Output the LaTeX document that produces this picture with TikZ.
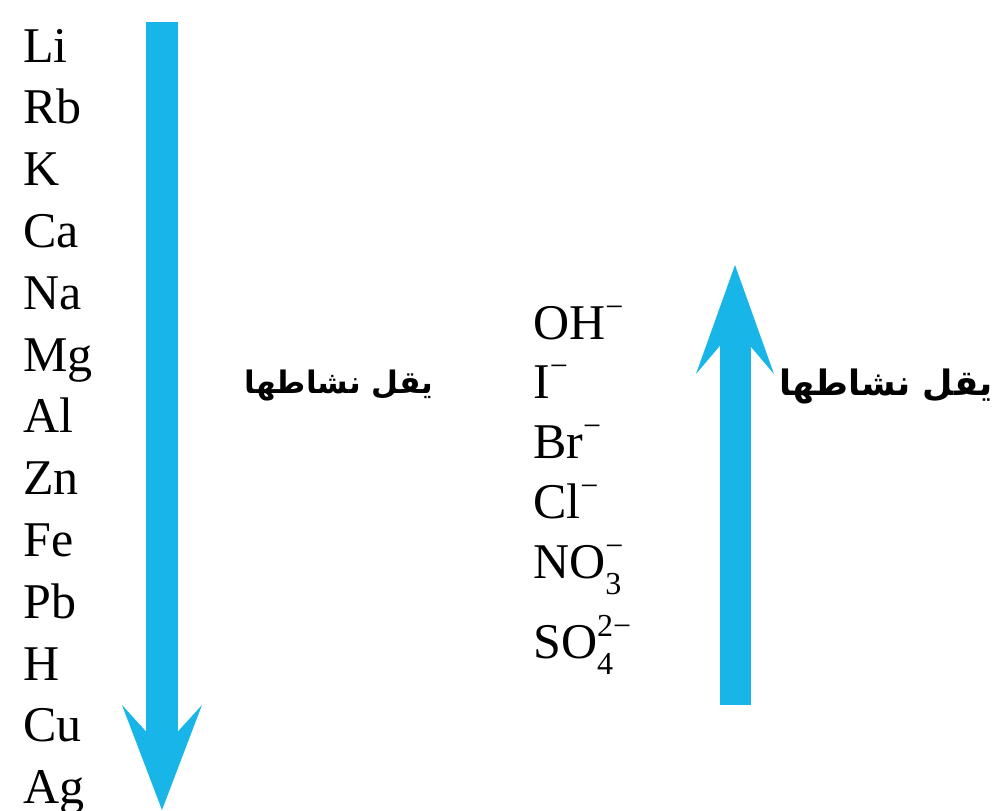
\documentclass[tikz,border=0pt]{standalone}
\usepackage{fontspec}
\setmainfont{Liberation Serif}
\newfontfamily\arabicfont[Script=Arabic]{DejaVu Sans}
\TeXXeTstate=1
\usetikzlibrary{arrows.meta}
\definecolor{arrowcyan}{RGB}{24,182,232}
\newcommand\chgup[1]{\raisebox{0.44em}{\fontsize{32}{32}\selectfont #1}}
\newcommand\chgdn[1]{\raisebox{-0.32em}{\fontsize{32}{32}\selectfont #1}}
\newcommand\chgstack[2]{\rlap{\chgdn{#1}}\chgup{#2}}
\begin{document}
\begin{tikzpicture}[x=1pt,y=-1pt,
  elem/.style={anchor=base west,inner sep=0pt,font=\fontsize{50}{50}\selectfont},
  arab/.style={inner sep=0pt,font=\fontsize{#1}{40}\selectfont\arabicfont\bfseries}]
\useasboundingbox (0,0) rectangle (997,811);
% metals
\foreach \n [count=\i from 0] in {Li,Rb,K,Ca,Na,Mg,Al,Zn,Fe,Pb,H,Cu,Ag}
  \node[elem] (m\i) at (23,{62+61.8*\i}) {\n};
% ions
\node[elem] (ion1) at (533,339) {OH\chgup{−}};
\node[elem] (ion2) at (533,398) {I\chgup{−}};
\node[elem] (ion3) at (533,458) {Br\chgup{−}};
\node[elem] (ion4) at (533,518) {Cl\chgup{−}};
\node[elem] (ion5) at (533,578) {NO\chgstack{3}{−}};
\node[elem] (ion6) at (533,658) {SO\chgstack{4}{2−}};
% labels
\node[arab=31] (lbl1) at (339,386) {\beginR يقل نشاطها\endR};
\node[arab=35] (lbl2) at (886,386) {\beginR يقل نشاطها\endR};
% arrows
\coordinate (a1s) at (162,22);
\coordinate (a1e) at (162,810);
\coordinate (a2s) at (735,705);
\coordinate (a2e) at (735,265);
\draw[draw=arrowcyan,line width=32pt,-{Stealth[length=105pt,width=80pt,inset=44pt,line width=0pt,fill=arrowcyan]}] (a1s) -- (a1e);
\draw[draw=arrowcyan,line width=31pt,-{Stealth[length=109pt,width=78pt,inset=46pt,line width=0pt,fill=arrowcyan]}] (a2s) -- (a2e);
\end{tikzpicture}
\end{document}
